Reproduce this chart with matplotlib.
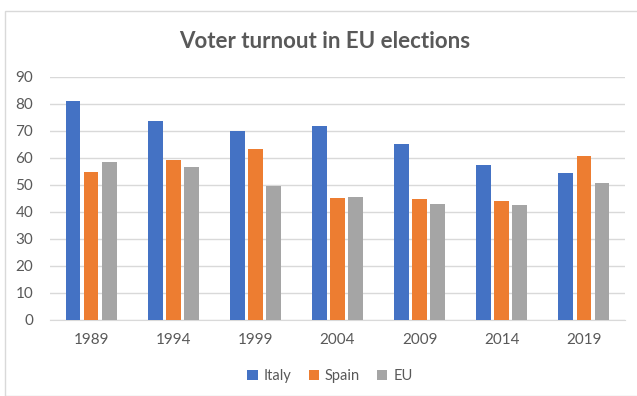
import matplotlib
matplotlib.use("Agg")
import matplotlib.pyplot as plt
import numpy as np
from matplotlib.patches import Rectangle

years = ["1989", "1994", "1999", "2004", "2009", "2014", "2019"]
italy = [81.1, 73.6, 69.8, 71.7, 65.1, 57.2, 54.5]
spain = [54.7, 59.1, 63.1, 45.1, 44.9, 43.8, 60.7]
eu = [58.4, 56.7, 49.5, 45.5, 43.0, 42.6, 50.7]
series = [("Italy", italy, "#4472C4"), ("Spain", spain, "#ED7D31"), ("EU", eu, "#A5A5A5")]

plt.rcParams['font.family'] = ['Lato', 'DejaVu Sans']
txt = "#595959"

fig = plt.figure(figsize=(6.37, 3.96), dpi=100)
fig.patch.set_facecolor("white")
fig.patches.append(Rectangle((5/637, 0), 1, 1 - 11/396, transform=fig.transFigure,
                             fill=False, edgecolor="#D9D9D9", linewidth=1))

ax = fig.add_axes([50/637, 1 - 319.5/396, (625-50)/637, (319.5-77)/396])
x = np.arange(len(years))
w = 0.18
step = 0.22
for i, (name, vals, col) in enumerate(series):
    ax.bar(x + (i - 1) * step, vals, width=w, color=col, label=name, zorder=3)

ax.set_xlim(-0.5, len(years) - 0.5)
ax.set_ylim(0, 90)
ax.set_yticks(range(0, 91, 10))
ax.set_xticks(x)
ax.set_xticklabels(years)
ax.grid(axis='y', color="#D9D9D9", linewidth=1, zorder=0)
for s in ["top", "right", "left"]:
    ax.spines[s].set_visible(False)
ax.spines["bottom"].set_color("#D9D9D9")
ax.tick_params(axis='both', length=0, colors=txt, labelsize=11)
ax.tick_params(axis='x', pad=10)
ax.tick_params(axis='y', pad=12)

fig.text(325/637, 1 - 42/396, "Voter turnout in EU elections", ha='center', va='center',
         fontsize=16, fontweight='bold', color=txt)

leg = fig.legend(loc='center', bbox_to_anchor=(330/637, 1 - 376/396), ncol=3, frameon=False,
                 fontsize=10.5, handlelength=0.7, handleheight=0.7, handletextpad=0.4,
                 columnspacing=1.2)
for t in leg.get_texts():
    t.set_color(txt)

fig.savefig("out.png", dpi=100, facecolor="white")
